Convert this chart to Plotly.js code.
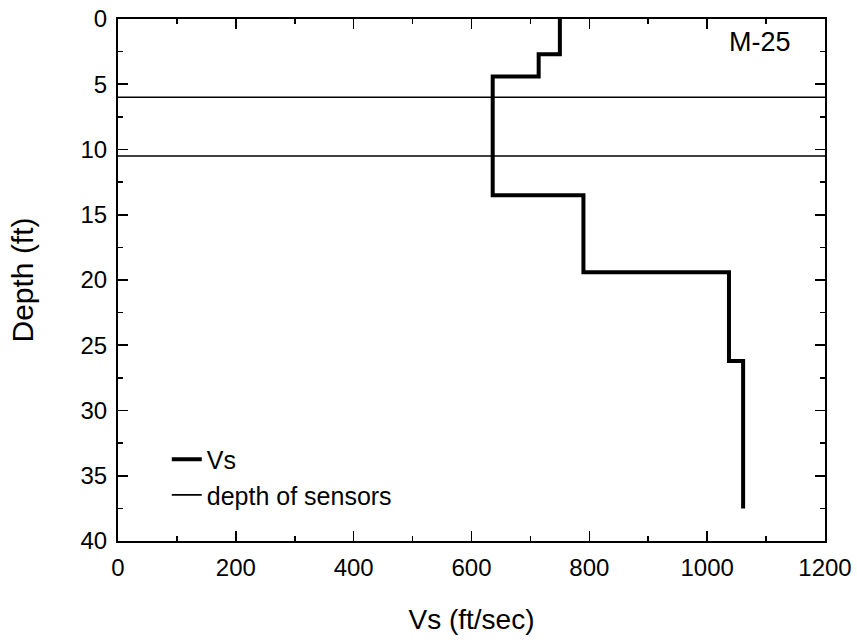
<!DOCTYPE html>
<html>
<head>
<meta charset="utf-8">
<script src="https://cdn.plot.ly/plotly-3.0.1.min.js"></script>
<style>html,body{margin:0;padding:0;background:#fff;}#chart{width:857px;height:644px;}</style>
</head>
<body>
<div id="chart"></div>
<script>
// Shear-wave velocity profile (layered), M-25
var layerVs = [750, 714, 636, 790, 1037, 1061, 1061];      // ft/sec
var layerTopDepth = [0, 2.7, 4.4, 13.5, 19.4, 26.2, 37.5]; // ft (last = profile bottom)
var sensorDepths = [6, 10.5];                               // ft
var xRange = [0, 1200];
var yRange = [40, 0];
var siteLabel = "M-25";

var FONT = "Liberation Sans, Arial, sans-serif";

var sensX = [], sensY = [];
sensorDepths.forEach(function (d, i) {
  if (i > 0) { sensX.push(null); sensY.push(null); }
  sensX.push(xRange[0], xRange[1]);
  sensY.push(d, d);
});

var traces = [
  {
    x: layerVs, y: layerTopDepth, type: "scatter", mode: "lines",
    name: "Vs", line: {color: "#000", width: 4, shape: "vh"}
  },
  {
    x: sensX, y: sensY, type: "scatter", mode: "lines",
    name: "depth of sensors", line: {color: "#000", width: 1.6},
    connectgaps: false
  }
];

var axisCommon = {
  showgrid: false, zeroline: false, showline: true, linecolor: "#000", linewidth: 2,
  mirror: "ticks", ticks: "inside", ticklen: 10, tickwidth: 1.6, tickcolor: "#000",
  tickfont: {family: FONT, size: 24, color: "#000"}
};

var layout = {
  width: 857, height: 644,
  margin: {l: 118, r: 32, t: 19, b: 103},
  paper_bgcolor: "#fff", plot_bgcolor: "#fff",
  font: {family: FONT, color: "#000"},
  showlegend: true,
  legend: {
    x: 0.069, xanchor: "left", y: 0.2, yanchor: "top",
    bgcolor: "rgba(0,0,0,0)", borderwidth: 0,
    font: {family: FONT, size: 25, color: "#000"},
    tracegroupgap: 0
  },
  xaxis: Object.assign({}, axisCommon, {
    range: xRange, dtick: 200, tick0: 0,
    minor: {dtick: 100, ticks: "inside", ticklen: 5, tickwidth: 1.6, tickcolor: "#000", showgrid: false},
    ticklabelstandoff: 4,
    title: {text: "Vs (ft/sec)", font: {family: FONT, size: 28, color: "#000"}, standoff: 30}
  }),
  yaxis: Object.assign({}, axisCommon, {
    range: yRange, dtick: 5, tick0: 0,
    minor: {dtick: 2.5, ticks: "inside", ticklen: 5, tickwidth: 1.6, tickcolor: "#000", showgrid: false},
    ticklabelstandoff: 4,
    title: {text: "Depth (ft)", font: {family: FONT, size: 30, color: "#000"}, standoff: 38}
  }),
  annotations: [{
    x: 1089, y: 1.8, xref: "x", yref: "y", text: siteLabel, showarrow: false,
    font: {family: FONT, size: 27, color: "#000"}
  }]
};

Plotly.newPlot("chart", traces, layout, {displayModeBar: false, staticPlot: true});
</script>
</body>
</html>
